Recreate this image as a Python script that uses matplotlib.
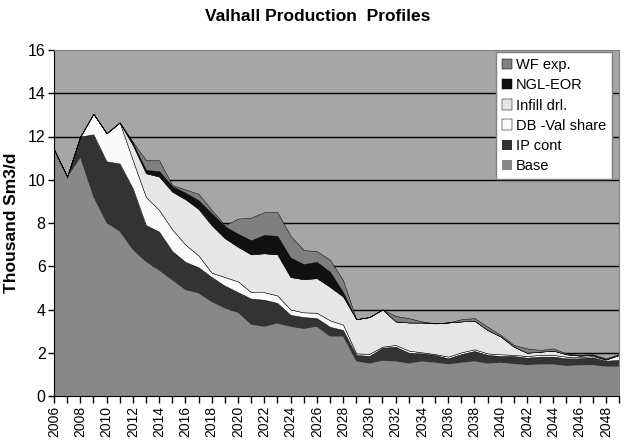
import matplotlib
matplotlib.use("Agg")
import matplotlib.pyplot as plt
import numpy as np

plt.rcParams['font.family'] = ['Liberation Sans', 'DejaVu Sans']

years = list(range(2006, 2050))

base = [11.4, 10.1, 11.0, 9.2, 8.0, 7.6, 6.75, 6.2, 5.8, 5.35, 4.9, 4.75, 4.35, 4.05, 3.85,
        3.3, 3.2, 3.35, 3.2, 3.1, 3.2, 2.75, 2.75, 1.6, 1.5, 1.63, 1.6, 1.5, 1.6, 1.54,
        1.46, 1.54, 1.6, 1.5, 1.54, 1.48, 1.43, 1.46, 1.46, 1.39, 1.42, 1.43, 1.36, 1.36]
ip_cont = [0, 0, 1.0, 2.9, 2.85, 3.15, 2.85, 1.7, 1.8, 1.35, 1.3, 1.2, 1.15, 1.05, 0.95,
           1.2, 1.25, 0.95, 0.55, 0.55, 0.4, 0.45, 0.3, 0.3, 0.35, 0.6, 0.68, 0.5, 0.37, 0.36,
           0.28, 0.4, 0.48, 0.4, 0.31, 0.37, 0.34, 0.36, 0.36, 0.35, 0.32, 0.36, 0.27, 0.31]
db_val = [0, 0.05, 0, 0.95, 1.3, 1.9, 1.3, 1.3, 1.0, 1.0, 0.8, 0.55, 0.2, 0.4, 0.5,
          0.3, 0.35, 0.35, 0.25, 0.22, 0.25, 0.3, 0.25, 0.07, 0.1, 0.05, 0.08, 0.1, 0.05, 0.04,
          0.08, 0.08, 0.08, 0.07, 0.08, 0.05, 0.08, 0.08, 0.08, 0.08, 0.05, 0.06, 0.05, 0.23]
infill = [0, 0, 0, 0, 0, 0, 0.7, 1.1, 1.55, 1.75, 2.1, 2.15, 2.2, 1.8, 1.6,
          1.75, 1.8, 1.9, 1.5, 1.53, 1.6, 1.55, 1.3, 1.58, 1.7, 1.72, 1.09, 1.3, 1.38, 1.42,
          1.58, 1.43, 1.32, 1.08, 0.82, 0.38, 0.15, 0.15, 0.2, 0.11, 0.08, 0.05, 0.02, 0.0]
ngl_eor = [0, 0, 0, 0, 0, 0, 0.1, 0.15, 0.25, 0.25, 0.3, 0.4, 0.55, 0.55, 0.6,
           0.65, 0.85, 0.85, 0.9, 0.7, 0.75, 0.7, 0.2, 0, 0, 0, 0, 0, 0, 0,
           0, 0, 0, 0, 0, 0, 0, 0, 0, 0, 0, 0, 0, 0]
wf_exp = [0, 0, 0, 0, 0, 0, 0.05, 0.45, 0.5, 0.05, 0.15, 0.3, 0.15, 0.05, 0.7,
          1.05, 1.05, 1.1, 1.0, 0.65, 0.5, 0.55, 0.55, 0, 0, 0, 0.25, 0.2, 0.05, 0,
          0, 0.1, 0.12, 0.15, 0.07, 0.08, 0.2, 0.08, 0.1, 0.04, 0.03, 0.03, 0.04, 0.04]

labels = ['Base', 'IP cont', 'DB -Val share', 'Infill drl.', 'NGL-EOR', 'WF exp.']
colors = ['#888888', '#333333', '#FAFAFA', '#E6E6E6', '#111111', '#7F7F7F']

fig = plt.figure(figsize=(6.26, 4.42), dpi=100)
ax = fig.add_axes([54/626, 46/442, 565/626, 346/442])
ax.set_facecolor('#A6A6A6')

polys = ax.stackplot(years, base, ip_cont, db_val, infill, ngl_eor, wf_exp,
                     colors=colors, labels=labels, edgecolor='black', linewidth=0.35, zorder=2)
polys[0].set_edgecolor('none')
polys[1].set_edgecolor('none')

ax.set_xlim(2006, 2049)
ax.set_ylim(0, 16)
ax.set_yticks(range(0, 17, 2))
for v in range(2, 16, 2):
    ax.axhline(v, color='black', lw=1.0, zorder=1)

ax.set_xticks(years)
ax.set_xticklabels([str(y) if y % 2 == 0 else '' for y in years], rotation=90, fontsize=10)
ax.tick_params(axis='x', direction='out', length=5, width=1, pad=2)
ax.tick_params(axis='y', direction='out', length=4, width=1, labelsize=11.5, pad=2)

for s in ['top', 'right']:
    ax.spines[s].set_color('#808080')
ax.spines['left'].set_color('black')
ax.spines['bottom'].set_color('black')

ax.set_ylabel('Thousand Sm3/d', fontsize=12.5, fontweight='bold', labelpad=6)
fig.text(0.508, 0.963, 'Valhall Production  Profiles', ha='center', va='center',
         fontsize=12.5, fontweight='bold')

h, l = ax.get_legend_handles_labels()
leg = ax.legend(h[::-1], l[::-1], loc='upper right', bbox_to_anchor=(0.988, 0.993),
                fontsize=10.5, frameon=True, fancybox=False, handlelength=0.7,
                handleheight=0.7, handletextpad=0.3, labelspacing=0.42,
                borderpad=0.4, borderaxespad=0)
leg.get_frame().set_edgecolor('#808080')
leg.get_frame().set_linewidth(1.0)
leg.get_frame().set_facecolor('white')
leg.get_frame().set_alpha(1)
leg.set_zorder(5)

fig.savefig('out.png', dpi=100)
